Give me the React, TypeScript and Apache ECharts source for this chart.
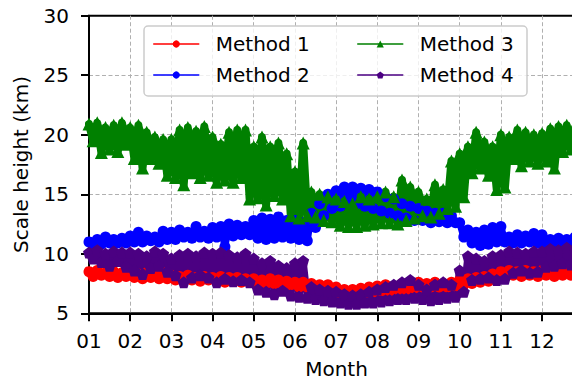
import React, { useEffect, useRef } from "react";
import * as echarts from "echarts";

// Month tick labels (value 1 = start of January)
const monthLabels = ["01", "02", "03", "04", "05", "06", "07", "08", "09", "10", "11", "12"];
const seriesNames = ["Method 1", "Method 2", "Method 3", "Method 4"];

// Sampling positions: every 0.2 month from 1.0 to 12.8; each step has an upper and a lower reading
const stepStart = 1.0;
const stepSize = 0.2;

// Method 1 (km)
const m1Hi = [
  8.5, 8.6, 8.4, 8.5, 8.4,
  8.4, 8.3, 8.4, 8.3, 8.4,
  8.2, 8.1, 8.2, 8.0, 8.1,
  8.0, 8.1, 8.0, 8.0, 7.9,
  7.9, 7.8, 7.9, 7.8, 7.7,
  7.6, 7.6, 7.5, 7.4, 7.4,
  7.2, 7.0, 7.0, 7.1, 7.2,
  7.3, 7.4, 7.3, 7.5, 7.5,
  7.6, 7.5, 7.6, 7.5, 7.6,
  7.8, 7.9, 8.0, 8.1, 8.3,
  8.5, 8.6, 8.5, 8.6, 8.5,
  8.6, 8.5, 8.6, 8.5, 8.6,
];
const m1Lo = [
  8.1, 8.2, 8.1, 8.0, 8.1,
  8.0, 7.9, 8.0, 7.9, 7.9,
  7.8, 7.7, 7.8, 7.7, 7.8,
  7.7, 7.6, 7.7, 7.6, 7.6,
  7.5, 7.5, 7.5, 7.4, 7.4,
  7.2, 7.2, 7.2, 7.1, 7.0,
  6.7, 6.6, 6.6, 6.7, 6.8,
  6.9, 6.9, 7.0, 7.0, 7.1,
  7.2, 7.2, 7.2, 7.2, 7.3,
  7.4, 7.5, 7.6, 7.7, 7.9,
  8.1, 8.2, 8.1, 8.2, 8.1,
  8.2, 8.1, 8.2, 8.2, 8.1,
];

// Method 2 (km)
const m2Hi = [
  11.0, 11.2, 11.4, 11.2, 11.3,
  11.5, 11.8, 11.5, 11.4, 11.9,
  11.8, 12.0, 11.8, 12.3, 11.9,
  12.2, 12.3, 12.5, 12.4, 12.3,
  12.8, 13.0, 12.9, 13.1, 12.8,
  12.8, 12.6, 13.4, 14.2, 15.0,
  15.3, 15.6, 15.6, 15.5, 15.4,
  15.2, 14.8, 14.6, 14.2, 14.0,
  13.8, 13.6, 13.4, 13.4, 13.2,
  12.6, 12.0, 11.8, 12.0, 12.2,
  12.3, 11.4, 11.6, 11.5, 11.7,
  11.6, 11.2, 11.3, 11.2, 11.4,
];
const m2Lo = [
  10.8, 10.8, 10.9, 10.9, 10.9,
  11.0, 11.0, 11.1, 11.0, 11.2,
  11.2, 11.4, 11.3, 11.4, 11.3,
  11.4, 10.6, 11.5, 11.6, 11.6,
  11.3, 11.2, 11.3, 11.4, 11.3,
  11.2, 11.1, 12.2, 13.2, 13.8,
  14.0, 14.4, 14.2, 14.0, 13.8,
  13.6, 13.4, 13.2, 13.0, 12.8,
  12.8, 12.6, 12.7, 12.6, 12.6,
  11.4, 10.9, 10.7, 10.8, 11.0,
  11.0, 10.9, 10.9, 11.0, 10.9,
  10.8, 10.9, 10.8, 10.9, 10.9,
];

// Method 3 (km)
const m3Hi = [
  20.9, 21.0, 20.6, 20.8, 21.0,
  20.6, 20.8, 20.2, 19.8, 19.6,
  19.6, 20.4, 20.6, 20.3, 20.7,
  19.8, 19.2, 20.2, 20.4, 20.4,
  19.0, 19.8, 19.0, 19.3, 18.4,
  16.9, 19.3, 15.2, 15.0, 14.8,
  14.6, 14.4, 14.2, 14.8, 14.6,
  14.8, 15.2, 14.8, 16.2, 15.6,
  15.2, 14.6, 15.8, 15.4, 17.8,
  18.4, 19.0, 20.2, 19.4, 19.0,
  20.0, 19.8, 20.4, 20.2, 20.0,
  20.1, 20.5, 20.7, 20.8, 20.6,
];
const m3Lo = [
  19.5, 18.5, 18.8, 18.6, 19.2,
  18.0, 17.2, 18.0, 17.6, 16.6,
  16.4, 15.8, 16.8, 16.4, 16.6,
  16.0, 16.2, 16.0, 16.4, 14.6,
  14.7, 14.1, 14.9, 14.6, 13.2,
  13.0, 13.2, 13.1, 12.8, 12.7,
  12.4, 12.3, 12.3, 12.4, 12.5,
  12.6, 12.6, 12.5, 12.8, 13.0,
  13.2, 13.1, 13.4, 13.8, 14.0,
  14.8, 16.8, 17.2, 16.6, 15.4,
  15.6, 18.0, 17.4, 17.8, 17.6,
  17.8, 17.2, 18.6, 18.8, 18.6,
];

// Method 4 (km)
const m4Hi = [
  10.1, 10.3, 10.0, 10.2, 10.1,
  10.1, 10.0, 9.8, 10.2, 10.0,
  9.6, 9.9, 10.0, 9.8, 10.1,
  10.0, 10.1, 9.9, 9.7, 10.0,
  9.6, 9.2, 9.4, 9.0, 8.8,
  9.2, 9.4, 7.2, 7.0, 6.9,
  6.8, 6.6, 6.5, 6.6, 6.8,
  7.0, 7.2, 7.4, 7.6, 7.8,
  7.4, 7.0, 7.4, 7.6, 7.4,
  8.6, 9.8, 9.6, 9.4, 9.8,
  9.9, 10.2, 10.1, 10.0, 10.2,
  10.2, 10.4, 10.3, 10.5, 10.4,
];
const m4Lo = [
  9.6, 9.3, 9.0, 9.4, 8.9,
  8.6, 8.3, 8.8, 9.0, 8.5,
  8.2, 7.6, 8.0, 8.2, 8.0,
  7.6, 7.9, 7.7, 7.8, 7.6,
  7.0, 6.8, 6.6, 6.9, 6.5,
  6.4, 6.3, 6.2, 6.1, 6.0,
  5.9, 5.8, 5.8, 5.9, 5.9,
  6.0, 6.1, 6.2, 6.2, 6.3,
  6.2, 6.1, 6.2, 6.3, 6.4,
  6.8, 7.8, 7.9, 8.0, 7.8,
  7.9, 8.4, 8.6, 8.4, 8.5,
  8.9, 9.0, 9.2, 9.1, 9.2,
];

const FONT = "DejaVu Sans";
const PENTAGON = "path://M0,-10L9.51,-3.09L5.88,8.09L-5.88,8.09L-9.51,-3.09Z";

// Upper and lower readings of each step, in time order
function buildPoints(hi: number[], lo: number[]): number[][] {
  const pts: number[][] = [];
  for (let i = 0; i < hi.length; i++) {
    const x = stepStart + stepSize * i;
    pts.push([x, hi[i]]);
    pts.push([x + stepSize / 2, lo[i]]);
  }
  return pts;
}

// Dense traces: a broad stroke plus large markers gives the solid band look
function lineSeries(name: string, color: string, symbol: string, size: number, width: number, hi: number[], lo: number[]) {
  return {
    name,
    type: "line",
    data: buildPoints(hi, lo),
    symbol,
    symbolSize: size,
    showAllSymbol: true,
    clip: true,
    lineStyle: { color, width, cap: "round", join: "round" },
    itemStyle: { color, borderWidth: 0 },
    z: 2,
  };
}

export default function App() {
  const ref = useRef<HTMLDivElement>(null);

  useEffect(() => {
    if (!ref.current) return;
    const chart = echarts.init(ref.current, null, { renderer: "svg" });

    const legendCommon = {
      orient: "vertical",
      top: 34,
      padding: 0,
      itemWidth: 45,
      itemHeight: 9,
      itemGap: 11,
      z: 10,
      lineStyle: { width: 1.5 },
      textStyle: { fontSize: 20, fontFamily: FONT, color: "#000", padding: [0, 0, 0, 12] },
    };

    const gridLine = { show: true, showMinLine: false, showMaxLine: false, lineStyle: { color: "#b0b0b0", width: 1, type: [4, 2.5] } };

    chart.setOption({
      animation: false,
      backgroundColor: "#ffffff",
      grid: {
        left: 89,
        top: 15.7,
        width: 493,
        height: 297.6,
        show: true,
        borderColor: "#000",
        borderWidth: 2,
        backgroundColor: "transparent",
      },
      xAxis: {
        type: "value",
        min: 1,
        max: 12.97,
        interval: 1,
        axisLine: { show: true, lineStyle: { color: "#000", width: 2 } },
        axisTick: { show: true, length: 8, lineStyle: { color: "#000", width: 2 } },
        axisLabel: {
          fontSize: 20,
          fontFamily: FONT,
          color: "#000",
          margin: 18,
          showMaxLabel: false,
          formatter: (v: number) => (Number.isInteger(v) && v >= 1 && v <= 12 ? monthLabels[v - 1] : ""),
        },
        splitLine: gridLine,
      },
      yAxis: {
        type: "value",
        min: 5,
        max: 30,
        interval: 5,
        axisLine: { show: true, lineStyle: { color: "#000", width: 2 } },
        axisTick: { show: true, length: 8, lineStyle: { color: "#000", width: 2 } },
        axisLabel: { fontSize: 20, fontFamily: FONT, color: "#000", margin: 20 },
        splitLine: gridLine,
      },
      legend: [
        { ...legendCommon, left: 153, data: [seriesNames[0], seriesNames[1]] },
        { ...legendCommon, left: 357, data: [seriesNames[2], seriesNames[3]] },
      ],
      graphic: [
        {
          type: "rect",
          z: 5,
          shape: { x: 144, y: 26, width: 383, height: 70, r: 4 },
          style: { fill: "rgba(255,255,255,0.8)", stroke: "#cccccc", lineWidth: 1.5 },
        },
        {
          type: "text",
          z: 5,
          x: 21,
          y: 164.5,
          rotation: Math.PI / 2,
          style: {
            text: "Scale height (km)",
            fontSize: 20,
            fontFamily: FONT,
            fill: "#000",
            align: "center",
            verticalAlign: "middle",
          },
        },
        {
          type: "text",
          z: 5,
          x: 336.5,
          y: 369,
          style: {
            text: "Month",
            fontSize: 20,
            fontFamily: FONT,
            fill: "#000",
            align: "center",
            verticalAlign: "middle",
          },
        },
      ],
      series: [
        lineSeries(seriesNames[0], "#ff0000", "circle", 11, 7, m1Hi, m1Lo),
        lineSeries(seriesNames[1], "#0000ff", "circle", 11, 7, m2Hi, m2Lo),
        lineSeries(seriesNames[2], "#008000", "triangle", 13, 8, m3Hi, m3Lo),
        lineSeries(seriesNames[3], "#4b0082", PENTAGON, 12, 7, m4Hi, m4Lo),
      ],
    });

    return () => chart.dispose();
  }, []);

  return (
    <div style={{ position: "fixed", left: 0, top: 0, width: 572, height: 380, overflow: "hidden", background: "#fff" }}>
      <div ref={ref} style={{ width: 600, height: 380 }} />
    </div>
  );
}
